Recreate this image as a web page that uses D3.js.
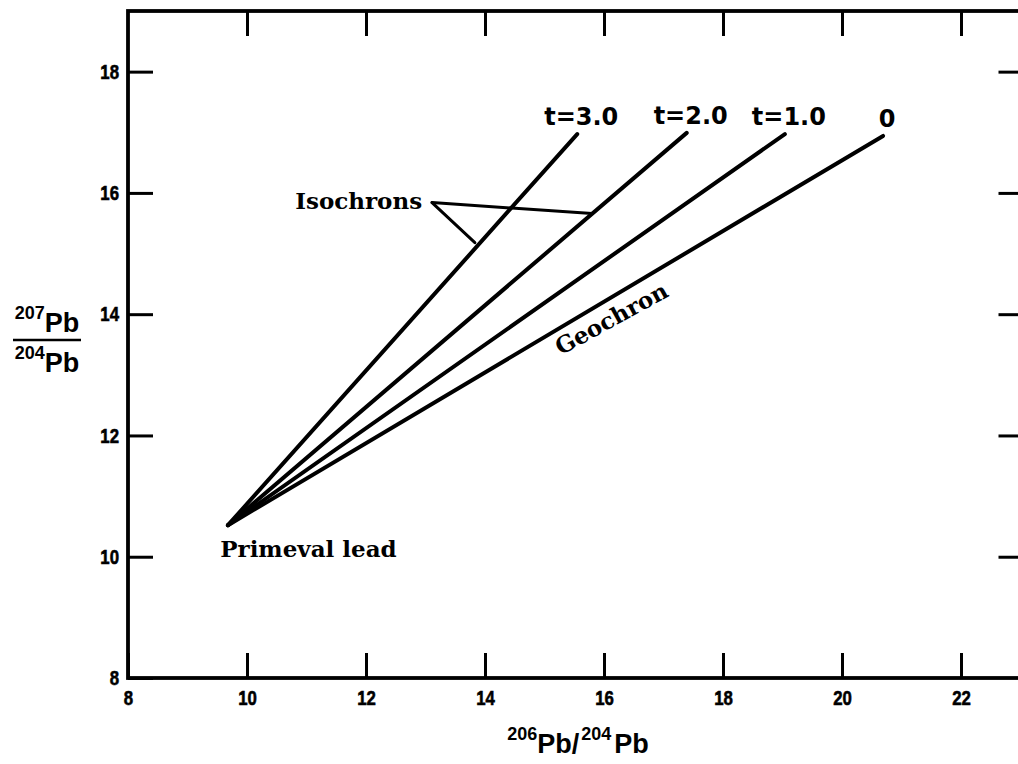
<!DOCTYPE html>
<html><head><meta charset="utf-8">
<script src="https://cdn.jsdelivr.net/npm/d3@7"></script>
<style>html,body{margin:0;padding:0;background:#fff;} svg{display:block;}</style>
</head><body>
<svg id="chart" width="1018" height="764"></svg>
<script>
// ---- data ----
const xTickValues = [8, 10, 12, 14, 16, 18, 20, 22];
const yTickValues = [8, 10, 12, 14, 16, 18];
const xTopTicks = [10, 12, 14, 16, 18, 20, 22];
const yRightTicks = [10, 12, 14, 16, 18];
const xDomain = [8, 23];
const yDomain = [8, 19];
const primevalX = 9.68;
const primevalY = 10.52;
const lineLabels = ["t=3.0", "t=2.0", "t=1.0", "0"];
const lineEndX = [15.55, 17.39, 19.04, 20.69];
const lineEndY = [16.97, 16.99, 16.97, 16.94];
// annotations (data units)
const isoTextPos = [10.81, 15.74];
const isoLeaderStart = [13.11, 15.84];
const isoLeaderEnds = [[15.80, 15.66], [13.83, 15.18]];
const primevalTextPos = [9.55, 9.99];
const geochronTextPos = [16.19, 13.81];

// ---- layout ----
const svg = d3.select("#chart");
svg.append("rect").attr("width", 1018).attr("height", 764).attr("fill", "#fff");
const x = d3.scaleLinear().domain(xDomain).range([128, 1020.5]);
const y = d3.scaleLinear().domain(yDomain).range([678, 11]);
const ink = "#000";
const sx = 0.8;

function styleAxis(g) {
  g.select(".domain").remove();
  g.selectAll(".tick line").attr("stroke", ink).attr("stroke-width", 3);
}
function styleTickText(sel) {
  sel.attr("fill", ink).attr("stroke", ink).attr("stroke-width", 0.6)
    .style("font-family", "'Liberation Sans', Arial, sans-serif").style("font-weight", "bold").style("font-size", "21px");
}

// bottom axis
const gB = svg.append("g").attr("transform", `translate(0,${y(8)})`)
  .call(d3.axisBottom(x).tickValues(xTickValues).tickSize(-25).tickPadding(12).tickFormat(d3.format("d")));
styleAxis(gB);
styleTickText(gB.selectAll(".tick text"));
gB.selectAll(".tick text").attr("transform", `scale(${sx},1)`);

// left axis
const gL = svg.append("g").attr("transform", `translate(${x(8)},0)`)
  .call(d3.axisLeft(y).tickValues(yTickValues).tickSize(-25).tickPadding(9).tickFormat(d3.format("d")));
styleAxis(gL);
styleTickText(gL.selectAll(".tick text"));
gL.selectAll(".tick text").attr("x", -9 / sx).attr("transform", `scale(${sx},1)`);

// top axis
const gT = svg.append("g").attr("transform", `translate(0,${y(19)})`)
  .call(d3.axisTop(x).tickValues(xTopTicks).tickSize(-25).tickFormat(""));
styleAxis(gT);

// right axis
const gR = svg.append("g").attr("transform", `translate(${x(23)},0)`)
  .call(d3.axisRight(y).tickValues(yRightTicks).tickSize(-22).tickFormat(""));
styleAxis(gR);

// frame
svg.append("rect")
  .attr("x", x(8)).attr("y", y(19))
  .attr("width", x(23) - x(8)).attr("height", y(8) - y(19))
  .attr("fill", "none").attr("stroke", ink).attr("stroke-width", 3.8);

// lines
const line = d3.line().x(d => x(d[0])).y(d => y(d[1]));
lineLabels.forEach((lab, i) => {
  svg.append("path")
    .attr("d", line([[primevalX, primevalY], [lineEndX[i], lineEndY[i]]]))
    .attr("fill", "none").attr("stroke", ink).attr("stroke-width", 4).attr("stroke-linecap", "round");
  svg.append("text")
    .attr("x", x(lineEndX[i]) + 4).attr("y", y(lineEndY[i]) - 9)
    .attr("text-anchor", "middle").attr("fill", ink)
    .style("font-family", "'DejaVu Sans', sans-serif").style("font-weight", "bold").style("font-size", "24px")
    .text(lab);
});

// Isochrons annotation
const serif = "'DejaVu Serif', serif";
svg.append("text")
  .attr("x", x(isoTextPos[0])).attr("y", y(isoTextPos[1]))
  .attr("fill", ink).style("font-family", serif).style("font-weight", "bold").style("font-size", "23px")
  .text("Isochrons");
isoLeaderEnds.forEach(e => {
  svg.append("path")
    .attr("d", line([isoLeaderStart, e]))
    .attr("fill", "none").attr("stroke", ink).attr("stroke-width", 3).attr("stroke-linecap", "round");
});

// Primeval lead
svg.append("text")
  .attr("x", x(primevalTextPos[0])).attr("y", y(primevalTextPos[1]))
  .attr("fill", ink).style("font-family", serif).style("font-weight", "bold").style("font-size", "23px")
  .text("Primeval lead");

// Geochron label, rotated along the geochron line
const gi = lineLabels.length - 1;
const ang = Math.atan2(y(lineEndY[gi]) - y(primevalY), x(lineEndX[gi]) - x(primevalX)) * 180 / Math.PI + 2;
svg.append("text")
  .attr("transform", `translate(${x(geochronTextPos[0])},${y(geochronTextPos[1])}) rotate(${ang})`)
  .attr("text-anchor", "middle").attr("fill", ink)
  .style("font-family", serif).style("font-weight", "bold").style("font-size", "23px")
  .text("Geochron");

// Y axis title (fraction)
const sans = "'Liberation Sans', Arial, sans-serif";
function isoText(px, py, mass) {
  const t = svg.append("text").attr("x", px).attr("y", py).attr("text-anchor", "middle")
    .attr("fill", ink).style("font-family", sans).style("font-weight", "bold");
  t.append("tspan").style("font-size", "18px").attr("dy", -13).text(mass);
  t.append("tspan").style("font-size", "27px").attr("dy", 13).text("Pb");
  return t;
}
isoText(47, 332, "207");
svg.append("line").attr("x1", 13).attr("x2", 81).attr("y1", 340).attr("y2", 340)
  .attr("stroke", ink).attr("stroke-width", 2.5);
isoText(47, 372, "204");

// X axis title
const xt = svg.append("text").attr("x", 578).attr("y", 753).attr("text-anchor", "middle")
  .attr("fill", ink).style("font-family", sans).style("font-weight", "bold");
xt.append("tspan").style("font-size", "18px").attr("dy", -13).text("206");
xt.append("tspan").style("font-size", "27px").attr("dy", 13).text("Pb/");
xt.append("tspan").style("font-size", "18px").attr("dy", -13).attr("dx", 2).text("204");
xt.append("tspan").style("font-size", "27px").attr("dy", 13).attr("dx", 3).text("Pb");
</script>
</body></html>
